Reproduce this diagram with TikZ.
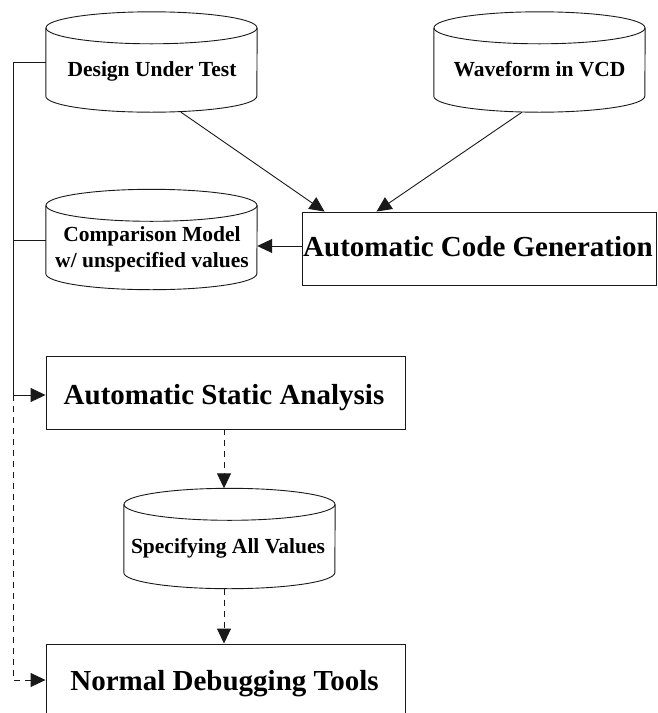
\documentclass[tikz,border=0pt]{standalone}
\usepackage{fontspec}
\setmainfont{Liberation Serif}
\usetikzlibrary{arrows.meta,calc}

% database drum drawn around an invisible rectangular node
\newcommand{\drawdrum}[1]{%
  \draw[outline] ($(#1.north)+(0,16)$) ellipse [x radius=105.5pt, y radius=16pt];
  \draw[outline] ($(#1.north west)+(0,16)$) -- ($(#1.south west)+(0,-16)$)
    arc [start angle=180, end angle=360, x radius=105.5pt, y radius=16pt]
    -- ($(#1.north east)+(0,16)$);
}

\begin{document}
\begin{tikzpicture}[x=1pt, y=-1pt,
  outline/.style={draw=black!90, line width=0.9pt},
  drum/.style={draw=none, minimum width=211pt, minimum height=100pt, inner sep=0pt},
  drumtext/.style={font=\bfseries\fontsize{21.5}{26}\selectfont, inner sep=0pt, align=center},
  procbox/.style={outline, minimum height=73pt, inner sep=0pt},
  proctext/.style={font=\bfseries\fontsize{29}{34}\selectfont, inner sep=0pt},
  flow/.style={outline, -{Triangle[length=15pt, width=14pt]}},
  dflow/.style={flow, dash pattern=on 6pt off 5pt}]

\fill[white] (0,0) rectangle (658,713);
\useasboundingbox (0,0) rectangle (658,713);
\clip (0,0) rectangle (658,713);

% data stores
\node[drum] (dut)  at (151.5,62)  {};
\node[drum] (wave) at (539.5,62)  {};
\node[drum] (cmp)  at (151.5,239.5) {};
\node[drum] (spec) at (229.5,538.5) {};
\drawdrum{dut}
\drawdrum{wave}
\drawdrum{cmp}
\drawdrum{spec}
\node[drumtext, anchor=base] (dutt)  at (152,76)  {Design Under Test};
\node[drumtext, anchor=base] (wavet) at (539.5,76) {Waveform in VCD};
\node[drumtext, anchor=base] (cmpt1) at (152,241.5) {Comparison Model};
\node[drumtext, anchor=base] (cmpt2) at (152,267.5) {w/ unspecified values};
\node[drumtext, anchor=base] (spect) at (228,553)  {Specifying All Values};

% processing steps
\node[procbox, minimum width=354pt] (acg) at (479,248.5) {};
\node[procbox, minimum width=359pt] (asa) at (225.5,392.5) {};
\node[procbox, minimum width=359pt] (ndt) at (225.5,680.5) {};
\node[proctext, anchor=base] (acgt) at (478,256)   {Automatic Code Generation};
\node[proctext, anchor=base] (asat) at (224,404)   {Automatic Static Analysis};
\node[proctext, anchor=base] (ndtt) at (224.5,690) {Normal Debugging Tools};

% left-hand rail
\coordinate (r1) at (13,62);
\coordinate (r2) at (13,240);
\coordinate (r3) at (13,395);
\coordinate (r4) at (13,680);
\draw[outline] (dut.west) -- (r1) -- (r3);
\draw[outline] (r2) -- (r2 -| cmp.west);
\draw[flow] (r3) -- (r3 -| asa.west);
\draw[dflow] (r3) -- (r4) -- (r4 -| ndt.west);

% code generation inputs and output
\draw[flow] ($(dut.south)+(29.5,0)$) -- ($(acg.north west)+(23,0)$);
\draw[flow] ($(wave.south)+(-17.5,0)$) -- ($(acg.north west)+(75,0)$);
\draw[flow] ($(acg.west)+(0,-2.5)$) -- ($(acg.west -| cmp.east)+(0,-2.5)$);

% analysis chain
\draw[dflow] ($(asa.south)+(-1.5,0)$) -- ($(asa.south |- spec.north)+(-1.5,0)$);
\draw[dflow] ($(ndt.north |- spec.south)+(-1.5,0)$) -- ($(ndt.north)+(-1.5,0)$);

\end{tikzpicture}
\end{document}
